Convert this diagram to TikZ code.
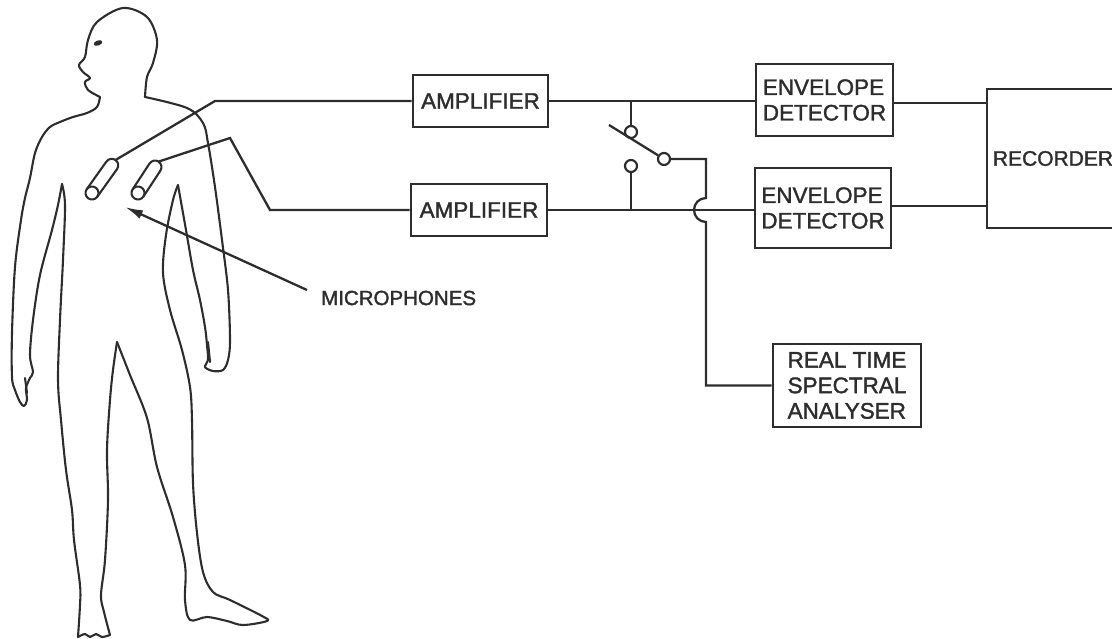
\documentclass[tikz,border=0pt]{standalone}
\usepackage{fontspec}
\setmainfont{Liberation Sans}[FakeBold=1.6]
\usetikzlibrary{arrows.meta}
\definecolor{ink}{RGB}{45,45,45}
\tikzset{
  blk/.style={draw=ink, line width=2.8pt, inner sep=0pt, text=ink, font=\fontsize{22.5}{25.5}\selectfont},
  contact/.style={circle, draw=ink, line width=2.2pt, fill=white, minimum size=12pt, inner sep=0pt},
  wire/.style={draw=ink, line width=2.3pt},
  body/.style={draw=ink, line width=2.1pt, line join=round, line cap=round}
}
\begin{document}
\begin{tikzpicture}[x=1pt,y=-1pt]
	\useasboundingbox (0,0) rectangle (1112,639);
	\clip (0,0) rectangle (1112,639);
	% blocks
	\node[blk, minimum width=135pt, minimum height=52pt] (amptop) at (480.5,101) {AMPLIFIER};
	\node[blk, minimum width=136pt, minimum height=52pt] (ampbot) at (479,210) {AMPLIFIER};
	\node[blk, minimum width=137pt, minimum height=72pt, align=left] (envtop) at (824.5,100) {ENVELOPE\\DETECTOR};
	\node[blk, minimum width=136pt, minimum height=80pt, align=left] (envbot) at (823,208) {ENVELOPE\\DETECTOR};
	\node[blk, minimum width=132pt, minimum height=139pt, font=\fontsize{21}{25}\selectfont] (rec) at (1053,158.5) {RECORDER};
	\node[blk, minimum width=148pt, minimum height=83pt, align=left] (rta) at (847,385.5) {REAL TIME\\SPECTRAL\\ANALYSER};
	\node[text=ink, font=\fontsize{20.5}{25}\selectfont, anchor=west, inner sep=0pt] (mictext) at (321,298) {MICROPHONES};
	% switch contacts
	\node[contact] (swa) at (631,132) {};
	\node[contact] (swb) at (631,166) {};
	\node[contact] (swc) at (664,159) {};
	% body outline
	\draw[body] plot[smooth, tension=0.55] coordinates {(62,184) (58,205) (52,230) (40,275) (33,320) (30,355) (33,372) (30,378) (26,388) (27,400) (24,406) (20,402) (15,390) (12,377) (12,333) (15,267) (21,220) (25,198) (30,178) (35,153) (42,137) (50,127) (60,122) (73,117) (87,113) (97,107) (100,97)};
	\draw[body] plot[smooth, tension=0.55] coordinates {(100,97) (88,90) (85,82) (90,78) (83,72) (79,65) (85,57) (88,40) (97,22) (123,8) (147,17) (157,40) (153,63) (147,77) (145,97)};
	\draw[body] plot[smooth, tension=0.55] coordinates {(145,97) (187,108) (203,123) (208,143) (215,187) (222,240) (228,290) (230,340) (228,360) (223,370) (213,371) (205,367) (208,360) (207,345) (205,327) (200,300) (193,270) (186,230) (178,185)};
	\draw[body] plot[smooth, tension=0.55] coordinates {(62,184) (65,205) (63,260) (60,320) (58,380) (61,420) (66,470) (72,510) (74,540) (80,585) (80,605) (78,637)};
	\draw[body] plot[smooth, tension=0.55] coordinates {(78,637) (85,634) (90,637) (96,634) (102,637) (110,635)};
	\draw[body] plot[smooth, tension=0.55] coordinates {(110,635) (104,612) (101,595) (105,560) (108,500) (107,450) (110,400) (113,370) (117,342)};
	\draw[body] plot[smooth, tension=0.55] coordinates {(117,342) (130,375) (147,418) (157,467) (173,517) (185,565) (185,600) (190,620) (207,617) (227,621) (243,625) (267,621) (262,616) (230,600) (213,592) (203,572) (197,533) (193,483) (192,420) (190,387) (182,350) (170,310) (163,273) (166,235) (173,200) (178,185)};
	\draw[body] (208,342) -- (210,362);
	\draw[body] (25,378) -- (27,393);
	\fill[ink, rotate around={20:(98,43)}] (98,43) ellipse[x radius=4.5pt, y radius=2.5pt];
	% microphones
	\begin{scope}[shift={(92,193)}, rotate=54.5]
		\draw[body] (0,0) circle[radius=6.5pt];
		\draw[body] (0,-6.5) -- (34,-6.5) arc[start angle=90, end angle=-90, radius=6.5pt] -- (0,6.5);
		\coordinate (mic1) at (40.5,0);
	\end{scope}
	\begin{scope}[shift={(138,193)}, rotate=56.8]
		\draw[body] (0,0) circle[radius=6.5pt];
		\draw[body] (0,-6.5) -- (31,-6.5) arc[start angle=90, end angle=-90, radius=6.5pt] -- (0,6.5);
		\coordinate (mic2) at (37.5,0);
	\end{scope}
	% wiring
	\draw[wire] (mic1) -- (215,101) -- (amptop.west);
	\draw[wire] (mic2) -- (230,138) -- (270,210) -- (ampbot.west);
	\draw[wire] (amptop.east) -- (amptop.east -| envtop.west);
	\draw[wire] (ampbot.east) -- (ampbot.east -| envbot.west);
	\draw[wire] ([yshift=-3pt]envtop.east) -- ([yshift=-3pt]envtop.east -| rec.west);
	\draw[wire] ([yshift=2pt]envbot.east) -- ([yshift=2pt]envbot.east -| rec.west);
	\draw[wire] (swa.north) -- (swa.north |- amptop.east);
	\draw[wire] (swb.south) -- (swb.south |- ampbot.east);
	\coordinate (blade) at (609,125);
	\draw[wire] (blade) -- (swc);
	\coordinate (hop) at (706,210);
	\draw[wire] (swc.east) -| ([yshift=12pt]hop) arc[start angle=90, end angle=270, radius=12pt] |- (rta.west);
	% pointer
	\coordinate (arrtail) at (307,290);
	\coordinate (arrtip) at (125,207);
	\draw[wire, -{Latex[length=18pt, width=9pt]}] (arrtail) -- (arrtip);
\end{tikzpicture}
\end{document}
